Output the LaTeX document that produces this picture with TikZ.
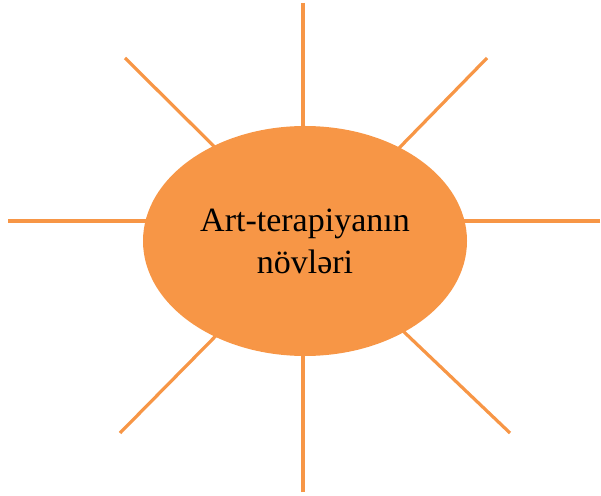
\documentclass[tikz,border=0pt]{standalone}
\usepackage{fontspec}
\setmainfont{Liberation Serif}
\usetikzlibrary{shapes.geometric}
\definecolor{sunorange}{HTML}{F79646}
\begin{document}
\begin{tikzpicture}[x=1pt,y=1pt,
  ray/.style={draw=sunorange,line width=3.2pt},
  sunbody/.style={ellipse,fill=sunorange,minimum width=324pt,minimum height=230pt,inner sep=0pt,align=center,font=\fontsize{34}{42}\selectfont}]
\useasboundingbox (0,0) rectangle (601,495);
% outer ends
\coordinate (oN) at (303,492);
\coordinate (oS) at (303,3);
\coordinate (oW) at (8,274);
\coordinate (oE) at (600,274);
\coordinate (oNW) at (125,437);
\coordinate (oNE) at (487,437);
\coordinate (oSW) at (120,62);
\coordinate (oSE) at (510,62);
% inner ends (hidden under the ellipse)
\coordinate (iN) at (303,300);
\coordinate (iS) at (303,200);
\coordinate (iW) at (200,274);
\coordinate (iE) at (410,274);
\coordinate (iNW) at (257,306);
\coordinate (iNE) at (363,310);
\coordinate (iSW) at (268,212);
\coordinate (iSE) at (360,205);
\foreach \d in {N,S,W,E,NW,NE,SW,SE}
  \draw[ray] (o\d) -- (i\d);
\node[sunbody] (sun) at (305,254) {Art-terapiyanın\\növləri};
\end{tikzpicture}
\end{document}
